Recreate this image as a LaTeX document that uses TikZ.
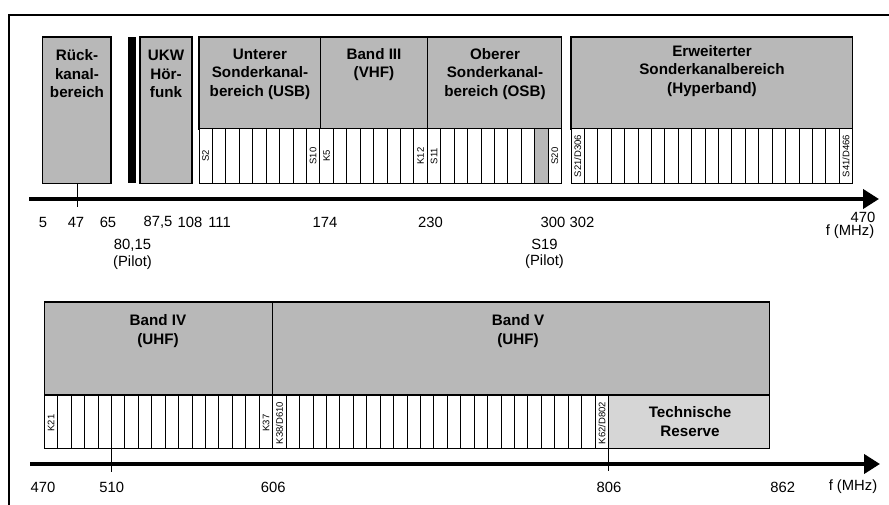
\documentclass[tikz,border=0pt]{standalone}
\usepackage{fontspec}
\setmainfont{Liberation Sans}
\usetikzlibrary{arrows.meta}
\definecolor{bandgray}{RGB}{184,184,184}
\definecolor{resgray}{RGB}{214,214,214}
\begin{document}
\begin{tikzpicture}[x=1pt,y=-1pt,
  band/.style={draw=black, line width=1.1pt, fill=bandgray},
  cellbox/.style={draw=black, line width=1pt, fill=white},
  cellline/.style={line width=1pt},
  title/.style={font=\fontsize{15.2}{18.5}\selectfont\bfseries, align=center, inner sep=0pt},
  num/.style={font=\fontsize{14.8}{17}\selectfont, inner sep=0pt},
  chlab/.style={font=\fontsize{9.5}{10}\selectfont, rotate=90, inner sep=0pt},
  axisline/.style={line width=4pt, -{Triangle[length=16pt,width=19pt]}},
  tickline/.style={line width=1pt}]
\useasboundingbox (0,0) rectangle (889,505);
\fill[white] (0,0) rectangle (889,505);
% frame
\draw[line width=1.3pt] (9,520) -- (9,15) -- (900,15);

% ---------------- top row ----------------
% Rueckkanal
\draw[band] (42.3,37) rectangle (111,183.5);
\node[title] (rueck) at (77,74) {Rück-\\kanal-\\bereich};
% black bar
\fill[black] (128,37) rectangle (135.7,183.5);
% UKW
\draw[band] (140,37) rectangle (192,183.5);
\node[title] (ukw) at (166,74) {UKW\\Hör-\\funk};
% USB / Band III / OSB
\draw[band] (199,37) rectangle (561.6,129);
\draw[cellbox] (199,129) rectangle (561.6,183.5);
\fill[bandgray] (199+25*13.43,129) rectangle (199+26*13.43,183.5);
\foreach \i in {1,...,26} \draw[cellline] (199+\i*13.43,129) -- (199+\i*13.43,183.5);
\draw[line width=1.1pt] (320.7,37) -- (320.7,129);
\draw[line width=1.1pt] (427.6,37) -- (427.6,129);
\node[title] (usb) at (260,74) {Unterer\\Sonderkanal-\\bereich (USB)};
\node[title] (b3) at (374,64.5) {Band III\\(VHF)};
\node[title] (osb) at (495,74) {Oberer\\Sonderkanal-\\bereich (OSB)};
\node[chlab] (s2) at (199+0.5*13.43,156) {S2};
\node[chlab] (s10) at (199+8.5*13.43,156) {S10};
\node[chlab] (k5) at (199+9.5*13.43,156) {K5};
\node[chlab] (k12) at (199+16.5*13.43,156) {K12};
\node[chlab] (s11) at (199+17.5*13.43,156) {S11};
\node[chlab] (s20) at (199+26.5*13.43,156) {S20};
% Hyperband
\draw[band] (571,37) rectangle (852.7,129);
\draw[cellbox] (571,129) rectangle (852.7,183.5);
\foreach \i in {1,...,20} \draw[cellline] (571+\i*13.414,129) -- (571+\i*13.414,183.5);
\node[title] (hyp) at (712,71) {Erweiterter\\Sonderkanalbereich\\(Hyperband)};
\node[chlab] (s21) at (571+0.5*13.414,156) {S21/D306};
\node[chlab] (s41) at (571+20.5*13.414,156) {S41/D466};

% axis top
\coordinate (ta0) at (29,199);
\coordinate (ta1) at (879,199);
\draw[axisline] (ta0) -- (ta1);
\coordinate (t47a) at (77,183.5);
\coordinate (t47b) at (77,207);
\draw[tickline] (t47a) -- (t47b);
\node[num] (n5) at (43,222) {5};
\node[num] (n47) at (76,222) {47};
\node[num] (n65) at (108,222) {65};
\node[num] (n875) at (158,222) {87,5};
\node[num] (n108) at (190,222) {108};
\node[num] (n111) at (219.5,222) {111};
\node[num] (n174) at (325,222) {174};
\node[num] (n230) at (430.5,222) {230};
\node[num] (n300) at (553,222) {300};
\node[num] (n302) at (582,222) {302};
\node[num] (n8015) at (132.5,245.5) {80,15};
\node[num] (pil1) at (132.5,263) {(Pilot)};
\node[num] (s19) at (544.5,244) {S19};
\node[num] (pil2) at (544.5,262) {(Pilot)};
\node[num] (n470a) at (863,217) {470};
\node[num] (fmhz1) at (850,232) {f (MHz)};

% ---------------- bottom row ----------------
\draw[band] (44.3,302) rectangle (769.3,395);
\draw[cellbox] (44.3,395) rectangle (608.6,448.5);
\fill[resgray, draw=black, line width=1.1pt] (608.6,395) rectangle (769.3,448.5);
\foreach \i in {1,...,41} \draw[cellline] (44.3+\i*13.435,395) -- (44.3+\i*13.435,448.5);
\draw[line width=1.1pt] (272.7,302) -- (272.7,395);
\node[title] (b4) at (158,331) {Band IV\\(UHF)};
\node[title] (b5) at (518,331) {Band V\\(UHF)};
\node[title] (tres) at (690,421.5) {Technische\\Reserve};
\node[chlab] (k21) at (44.3+0.5*13.435,423) {K21};
\node[chlab] (k37) at (44.3+16.5*13.435,423) {K37};
\node[chlab] (k38) at (44.3+17.5*13.435,423) {K38/D610};
\node[chlab] (k62) at (44.3+41.5*13.435,423) {K62/D802};

% axis bottom
\coordinate (ba0) at (30,464);
\coordinate (ba1) at (880,464);
\draw[axisline] (ba0) -- (ba1);
\coordinate (t510a) at (111.5,448.5);
\coordinate (t510b) at (111.5,472);
\draw[tickline] (t510a) -- (t510b);
\coordinate (t806a) at (608.6,448.5);
\coordinate (t806b) at (608.6,471);
\draw[tickline] (t806a) -- (t806b);
\node[num] (m470) at (43,487) {470};
\node[num] (m510) at (111.7,487) {510};
\node[num] (m606) at (273.3,487) {606};
\node[num] (m806) at (609,487) {806};
\node[num] (m862) at (782.7,487) {862};
\node[num] (fmhz2) at (853,487) {f (MHz)};
\end{tikzpicture}
\end{document}
